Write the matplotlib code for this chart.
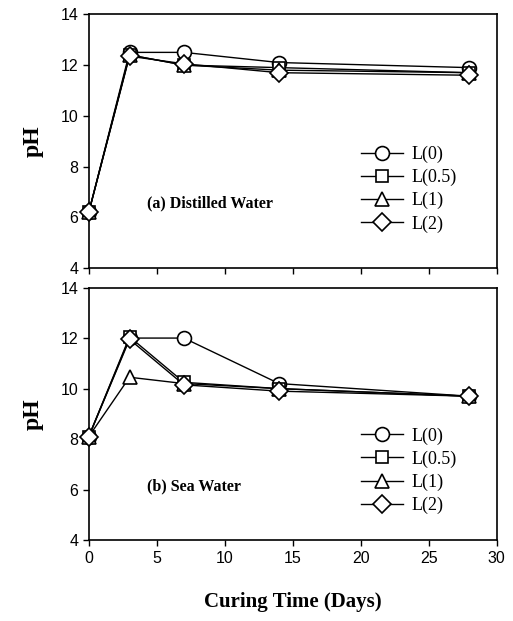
import matplotlib.pyplot as plt

days = [0, 3, 7, 14, 28]
labels = ['L(0)', 'L(0.5)', 'L(1)', 'L(2)']
markers = ['o', 's', '^', 'D']
msizes = [10, 8.5, 9.5, 9]

# (a) distilled water
ph_dw = [
    [6.2, 12.5, 12.5, 12.1, 11.9],
    [6.2, 12.4, 12.0, 11.9, 11.7],
    [6.2, 12.4, 12.0, 11.8, 11.7],
    [6.2, 12.35, 12.05, 11.7, 11.6],
]
# (b) sea water
ph_sw = [
    [8.1, 12.0, 12.0, 10.2, 9.7],
    [8.1, 12.05, 10.25, 10.0, 9.7],
    [8.1, 10.45, 10.2, 10.0, 9.7],
    [8.1, 11.95, 10.15, 9.9, 9.7],
]

serif = 'Liberation Serif'
sans = 'Liberation Sans'

fig = plt.figure(figsize=(5.13, 6.21), dpi=100)
ax1 = fig.add_axes([0.173, 0.568, 0.795, 0.409])
ax2 = fig.add_axes([0.173, 0.130, 0.795, 0.407])

def panel(ax, data, title, ty, ly):
    for vals, lab, m, ms in zip(data, labels, markers, msizes):
        ax.plot(days, vals, color='black', lw=1, marker=m, ms=ms,
                mfc='white', mec='black', mew=1.2, label=lab, clip_on=False,
                zorder=3)
    ax.set_xlim(0, 30)
    ax.set_ylim(4, 14)
    ax.set_yticks([4, 6, 8, 10, 12, 14])
    ax.set_xticks([0, 5, 10, 15, 20, 25, 30])
    ax.tick_params(direction='out', length=4, width=1, labelsize=11.5)
    for lbl in ax.get_xticklabels() + ax.get_yticklabels():
        lbl.set_fontfamily(sans)
    for s in ax.spines.values():
        s.set_linewidth(1.2)
    ax.set_ylabel('pH', fontfamily=serif, fontweight='bold', fontsize=17, labelpad=12)
    ax.text(0.142, ty, title, transform=ax.transAxes, fontfamily=serif,
            fontweight='bold', fontsize=11.5, va='center')
    ax.legend(loc='upper left', bbox_to_anchor=(0.65, ly), frameon=False,
              prop={'family': serif, 'size': 13}, handlelength=2.3,
              labelspacing=0.32, handletextpad=0.5, borderaxespad=0)

panel(ax1, ph_dw, '(a) Distilled Water', 0.256, 0.51)
panel(ax2, ph_sw, '(b) Sea Water', 0.213, 0.475)
ax1.tick_params(labelbottom=False)
ax2.set_xlabel('Curing Time (Days)', fontfamily=serif, fontweight='bold',
               fontsize=15, labelpad=19)

fig.savefig('out.png', dpi=100)
